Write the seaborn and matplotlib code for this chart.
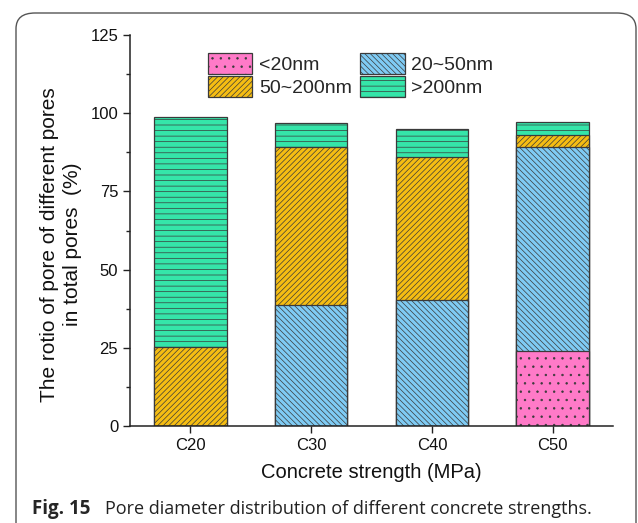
import numpy as np
import pandas as pd
import matplotlib
matplotlib.use("Agg")
import matplotlib.pyplot as plt
import seaborn as sns
from matplotlib.patches import FancyBboxPatch, Patch
from matplotlib.ticker import MultipleLocator

categories = ["C20", "C30", "C40", "C50"]
series_names = ["<20nm", "20~50nm", "50~200nm", ">200nm"]
lt20 = [0.0, 0.0, 0.0, 24.1]
s20_50 = [0.0, 38.8, 40.3, 65.2]
s50_200 = [25.2, 50.5, 45.6, 3.7]
gt200 = [73.5, 7.5, 9.0, 4.3]

colors = ["#FF7AC8", "#7FCBF4", "#F5BD12", "#35E5A9"]
hatches = ["..", "\\\\\\\\\\\\", "//////", "---"]

sns.set_style("ticks")
plt.rcParams["font.family"] = ["Liberation Sans", "DejaVu Sans"]
plt.rcParams["hatch.linewidth"] = 0.5

fig = plt.figure(figsize=(6.38, 5.23), dpi=100)
ax = fig.add_axes([130 / 638, 1 - 426 / 523, 483 / 638, 391 / 523])

layers = [lt20, s20_50, s50_200, gt200]
cum = np.cumsum(np.array(layers), axis=0)
# draw from the top layer down so each overlays the previous
for i in range(3, -1, -1):
    df = pd.DataFrame({"cat": categories, "val": cum[i]})
    sns.barplot(data=df, x="cat", y="val", ax=ax, color=colors[i],
                width=0.6, edgecolor="#3a3a3a", linewidth=0.9,
                hatch=hatches[i], saturation=1, errorbar=None)

ax.set_xlim(-0.5, 3.5)
ax.set_ylim(0, 125)
ax.yaxis.set_major_locator(MultipleLocator(25))
ax.yaxis.set_minor_locator(MultipleLocator(12.5))
ax.tick_params(axis="both", which="major", direction="out", length=5, width=1,
               labelsize=12, color="#222222", labelcolor="#111111")
ax.tick_params(axis="y", which="minor", direction="out", length=3, width=1,
               color="#222222")
for s in ["left", "bottom"]:
    ax.spines[s].set_linewidth(1.1)
    ax.spines[s].set_color("#222222")
sns.despine(ax=ax)
ax.set_xlabel("Concrete strength (MPa)", fontsize=14.5, labelpad=7,
              color="#111111")
ax.set_ylabel("The rotio of pore of different pores\nin total pores  (%)",
              fontsize=15, color="#111111", linespacing=1.25)
ax.yaxis.set_label_coords(-0.099, 0.465)

handles = [Patch(facecolor=colors[i], edgecolor="#3a3a3a", hatch=hatches[i],
                 linewidth=0.9) for i in range(4)]
order = [0, 2, 1, 3]
ax.legend([handles[i] for i in order], [series_names[i] for i in order],
          ncol=2, frameon=False, loc="upper left",
          bbox_to_anchor=(0.161, 0.953), borderpad=0, borderaxespad=0,
          fontsize=14, handlelength=2.3, handleheight=1.25,
          handletextpad=0.35, columnspacing=0.4, labelspacing=0.1)

# outer rounded frame
frame = FancyBboxPatch((16 / 638, -0.05), 620 / 638, 1 - 13 / 523 + 0.05,
                       boxstyle="round,pad=0,rounding_size=0.03",
                       transform=fig.transFigure, fill=False,
                       edgecolor="#555555", linewidth=1.0, clip_on=False)
fig.patches.append(frame)

fig.text(32 / 638, 1 - 509 / 523, "Fig. 15", fontsize=13.5, fontweight="bold",
         family=["Open Sans", "DejaVu Sans"], va="center", ha="left")
fig.text(105 / 638, 1 - 509 / 523,
         "Pore diameter distribution of different concrete strengths.",
         fontsize=13, family=["Open Sans", "DejaVu Sans"], va="center",
         ha="left", color="#222222")

fig.savefig("out.png", dpi=100)
